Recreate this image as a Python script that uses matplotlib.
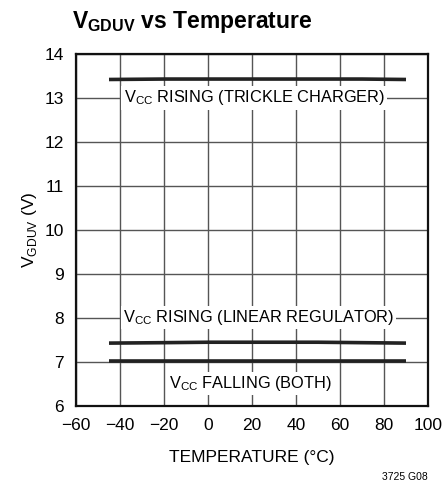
import numpy as np
import matplotlib
matplotlib.use("Agg")
import matplotlib.pyplot as plt

plt.rcParams['font.family'] = ['Liberation Sans Narrow', 'Liberation Sans', 'DejaVu Sans']

# data
temp = [-45, -20, 0, 25, 50, 70, 90]
trickle_rise = [13.42, 13.43, 13.43, 13.43, 13.43, 13.43, 13.42]
linreg_rise = [7.42, 7.43, 7.44, 7.44, 7.44, 7.43, 7.42]
vcc_fall = [7.01, 7.01, 7.01, 7.01, 7.01, 7.01, 7.01]

xticks = [-60, -40, -20, 0, 20, 40, 60, 80, 100]
xticklabels = ['\u221260', '\u221240', '\u221220', '0', '20', '40', '60', '80', '100']
yticks = [6, 7, 8, 9, 10, 11, 12, 13, 14]

fig = plt.figure(figsize=(4.44, 4.88), dpi=100)
ax = fig.add_axes([76 / 444, 1 - 405.5 / 488, 352 / 444, 351.5 / 488])

ax.set_xlim(-60, 100)
ax.set_ylim(6, 14)
ax.set_xticks(xticks)
ax.set_xticklabels(xticklabels)
ax.set_yticks(yticks)
ax.tick_params(axis='x', length=0, labelsize=12.5, pad=9)
ax.tick_params(axis='y', length=0, labelsize=12.5, pad=9)
ax.grid(True, color='#555555', linewidth=1.0)
ax.set_axisbelow(True)
for s in ax.spines.values():
    s.set_linewidth(1.6)
    s.set_color('#111111')

for ys in (trickle_rise, linreg_rise, vcc_fall):
    ax.plot(temp, ys, color='#222222', linewidth=2.6, solid_capstyle='butt', zorder=3)

box = dict(facecolor='white', edgecolor='none', pad=1.5)
fs = 11.8
ax.text(21, 13.0, r'V$_{\mathregular{CC}}$ RISING (TRICKLE CHARGER)', ha='center', va='center',
        fontsize=fs, bbox=box, zorder=4)
ax.text(23, 8.0, r'V$_{\mathregular{CC}}$ RISING (LINEAR REGULATOR)', ha='center', va='center',
        fontsize=fs, bbox=box, zorder=4)
ax.text(19.5, 6.5, r'V$_{\mathregular{CC}}$ FALLING (BOTH)', ha='center', va='center',
        fontsize=fs, bbox=box, zorder=4)

ax.set_xlabel('TEMPERATURE (\u00b0C)', fontsize=12.5, labelpad=12)
ax.set_ylabel(r'V$_{\mathregular{GDUV}}$ (V)', fontsize=12.5, labelpad=4)

fig.text(72 / 444, 1 - 28 / 488, r'V$_{\mathregular{GDUV}}$ vs Temperature', fontsize=16.5,
         fontweight='bold', ha='left', va='baseline')
fig.text(428 / 444, 1 - 480 / 488, '3725 G08', fontsize=7.5, ha='right', va='baseline')

fig.savefig('out.png', dpi=100)
